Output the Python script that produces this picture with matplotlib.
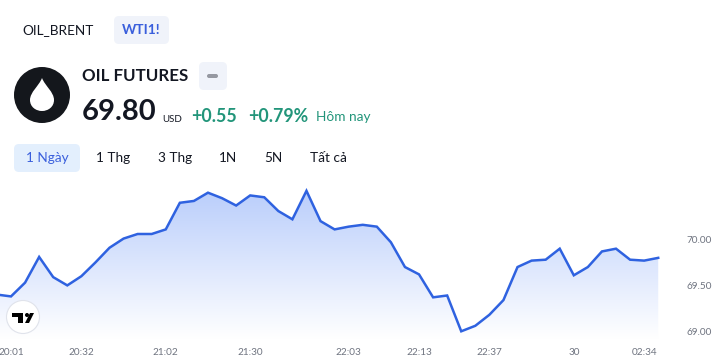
import numpy as np
import matplotlib
matplotlib.use("Agg")
import matplotlib.pyplot as plt
from matplotlib.patches import Circle, FancyBboxPatch, PathPatch, Polygon
from matplotlib.path import Path
from matplotlib.colors import LinearSegmentedColormap

plt.rcParams["font.family"] = ["Lato", "DejaVu Sans"]

# valeurs
prices = [69.40, 69.38, 69.53, 69.81, 69.59, 69.50, 69.60, 69.75, 69.91, 70.01,
          70.06, 70.06, 70.11, 70.40, 70.42, 70.51, 70.45, 70.37, 70.48, 70.46,
          70.31, 70.22, 70.53, 70.20, 70.11, 70.14, 70.16, 70.14, 69.97, 69.70,
          69.62, 69.37, 69.39, 69.00, 69.06, 69.18, 69.34, 69.70, 69.77, 69.78,
          69.90, 69.61, 69.70, 69.87, 69.90, 69.78, 69.77, 69.80]
time_ticks = [1, 6, 12, 18, 25, 30, 35, 41, 46]
time_labels = ["20:01", "20:32", "21:02", "21:30", "22:03", "22:13", "22:37", "30", "02:34"]
price_ticks = [69.0, 69.5, 70.0]
price_labels = ["69.00", "69.50", "70.00"]
range_labels = ["1 Ngày", "1 Thg", "3 Thg", "1N", "5N", "Tất cả"]
range_x = [47, 113, 175, 228, 273, 328]

W, H = 721, 361
BLUE = "#2f62e0"
GREEN = "#22957a"
DARK = "#131722"

fig = plt.figure(figsize=(W / 100, H / 100), dpi=100, facecolor="white")

# graphique : 14.07 px entre deux points, 91.8 px pour 1 USD
ax = fig.add_axes([0, (H - 342) / H, 660 / W, 162 / H])
xs = np.arange(len(prices))
xlim = (1 - 11 / 14.07, 1 + (660 - 11) / 14.07)
ylim = (70 - (342 - 239.5) / 91.8, 70 + (239.5 - 180) / 91.8)

cmap = LinearSegmentedColormap.from_list("fade", ["#b6cbfb", "#ffffff"])
top_val, bot_val = 70.62, 68.92
img = ax.imshow(np.linspace(0, 1, 256).reshape(-1, 1), cmap=cmap, aspect="auto",
                extent=[xs[0], xs[-1], bot_val, top_val], zorder=1)
poly = Polygon(list(zip(xs, prices)) + [(xs[-1], bot_val), (xs[0], bot_val)],
               closed=True, transform=ax.transData, fill=False, edgecolor="none")
ax.add_patch(poly)
img.set_clip_path(poly)
ax.set_xlim(xlim)
ax.set_ylim(ylim)

ax.plot(xs, prices, color=BLUE, lw=1.8, solid_joinstyle="miter", zorder=3)

for s in ax.spines.values():
    s.set_visible(False)
ax.yaxis.tick_right()
ax.set_xticks(time_ticks, time_labels)
ax.set_yticks(price_ticks, price_labels)
ax.tick_params(axis="both", length=0, labelsize=7.2, labelcolor="#6f7480")
ax.tick_params(axis="x", pad=4.5)
ax.tick_params(axis="y", pad=19)
ax.patch.set_alpha(0)

# couche en pixels pour l'en-tete
ov = fig.add_axes([0, 0, 1, 1], zorder=5)
ov.set_xlim(0, W)
ov.set_ylim(H, 0)
ov.axis("off")


def pill(x, y, w, h, color, r=5):
    ov.add_patch(FancyBboxPatch((x + r, y + r), w - 2 * r, h - 2 * r,
                                boxstyle=f"round,pad={r},rounding_size={r}",
                                fc=color, ec="none"))


pill(114, 16, 55, 28, "#f0f3fa")
pill(199, 62, 28, 28, "#f0f3fa")
pill(14, 144, 66, 28, "#e3effd")
pill(207, 74, 11, 4, "#9598a1", r=2)

ov.text(58, 30, "OIL_BRENT", fontsize=9.8, color=DARK, ha="center", va="center")
ov.text(141, 30, "WTI1!", fontsize=9.8, color="#3a5fdc", ha="center", va="center", weight="bold")
ov.text(82, 76, "OIL FUTURES", fontsize=12.2, color=DARK, ha="left", va="center", weight="bold")
ov.text(82, 112, "69.80", fontsize=21, color=DARK, ha="left", va="center", weight="bold")
ov.text(162, 119, "USD", fontsize=7, color=DARK, ha="left", va="center")
ov.text(191, 116, "+0.55", fontsize=12.8, color=GREEN, ha="left", va="center", weight="bold")
ov.text(248, 116, "+0.79%", fontsize=12.8, color=GREEN, ha="left", va="center", weight="bold")
ov.text(316, 117, "Hôm nay", fontsize=9.8, color=GREEN, ha="left", va="center")

for i, (lab, x) in enumerate(zip(range_labels, range_x)):
    ov.text(x, 158, lab, fontsize=9.8, ha="center", va="center",
            color="#3a5fdc" if i == 0 else DARK)

# logo goutte
ov.add_patch(Circle((42, 95), 28, fc="#14171c", ec="none"))
drop = Path([(42, 78), (45, 86), (54, 92), (54, 100), (54, 107), (48, 111), (42, 111),
             (36, 111), (30, 107), (30, 100), (30, 92), (39, 86), (42, 78)],
            [Path.MOVETO] + [Path.CURVE4] * 12)
ov.add_patch(PathPatch(drop, fc="white", ec="none"))

# logo TradingView
ov.add_patch(Circle((23, 317), 16.5, fc="white", ec="#e0e3eb", lw=0.8))
ov.add_patch(Polygon([(12, 313), (23, 313), (23, 323), (18, 323), (18, 317), (12, 317)], fc="black", ec="none"))
ov.add_patch(Circle((27, 315), 2, fc="black", ec="none"))
ov.add_patch(Polygon([(25, 323), (30, 313), (34, 313), (29, 323)], fc="black", ec="none"))

fig.savefig("out.png", dpi=100)
